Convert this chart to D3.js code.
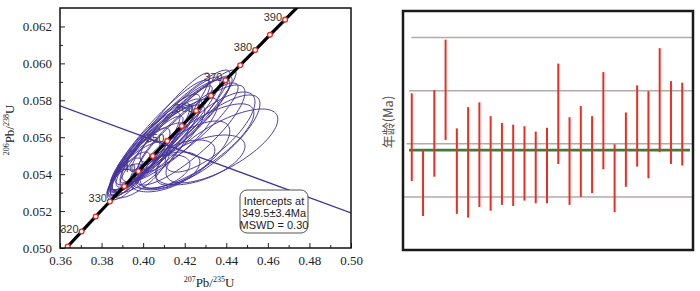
<!DOCTYPE html>
<html lang="zh">
<head>
<meta charset="utf-8">
<title>Concordia / weighted mean</title>
<script src="https://d3js.org/d3.v7.min.js"></script>
<style>
  html, body { margin: 0; padding: 0; background: #fff; }
  svg { display: block; }
  .age-lab { font-family: "Liberation Sans", Arial, sans-serif; font-size: 11px; fill: #333; }
  .box-txt { font-family: "Liberation Sans", Arial, sans-serif; font-size: 11px; fill: #222; }
</style>
</head>
<body>
<svg id="chart" width="700" height="291"></svg>
<script>
// concordia reference points (age, 207Pb/235U, 206Pb/238U)
const concAge = [315, 320, 325, 330, 335, 340, 345, 350, 355, 360, 365, 370, 375, 380, 385, 390, 395];
const conc207 = [0.3637, 0.3704, 0.3772, 0.3840, 0.3909, 0.3977, 0.4046, 0.4116, 0.4186, 0.4255, 0.4326, 0.4396, 0.4467, 0.4539, 0.4610, 0.4683, 0.4755];
const conc206 = [0.05008, 0.05089, 0.05171, 0.05252, 0.05334, 0.05416, 0.05498, 0.05580, 0.05661, 0.05743, 0.05825, 0.05908, 0.05990, 0.06072, 0.06155, 0.06237, 0.06319];
const labelAges = [320, 330, 340, 350, 360, 370, 380, 390];

// discordia end points
const discX = [0.36, 0.50];
const discY = [0.0577, 0.0519];

// error ellipses: centre, 2s errors, correlation
const ellX = [0.4129, 0.4081, 0.4105, 0.4057, 0.4033, 0.4009, 0.4153, 0.4201, 0.3985, 0.3961, 0.3937, 0.4081, 0.4129, 0.4033, 0.3913, 0.3985,
              0.4168, 0.4091, 0.4120, 0.4033, 0.4187, 0.4009, 0.4067, 0.4216, 0.3913, 0.4081,
              0.4379, 0.4312, 0.4254, 0.4201, 0.4153, 0.4274, 0.4105, 0.4225, 0.4322];
const ellY = [0.05639, 0.05612, 0.05650, 0.05574, 0.05542, 0.05520, 0.05666, 0.05693, 0.05477, 0.05433, 0.05401, 0.05558, 0.05585, 0.05488, 0.05379, 0.05423,
              0.05650, 0.05596, 0.05628, 0.05531, 0.05672, 0.05498, 0.05558, 0.05650, 0.05358, 0.05412,
              0.05553, 0.05585, 0.05553, 0.05504, 0.05450, 0.05477, 0.05412, 0.05612, 0.05628];
const ellSx = [0.0289, 0.0241, 0.0216, 0.0216, 0.0192, 0.0168, 0.0231, 0.0216, 0.0144, 0.0120, 0.0096, 0.0216, 0.0231, 0.0183, 0.0082, 0.0144,
               0.0279, 0.0241, 0.0250, 0.0202, 0.0241, 0.0183, 0.0216, 0.0241, 0.0087, 0.0144,
               0.0269, 0.0250, 0.0279, 0.0216, 0.0192, 0.0216, 0.0168, 0.0265, 0.0216];
const ellSy = [0.00325, 0.00298, 0.00298, 0.00260, 0.00244, 0.00217, 0.00244, 0.00228, 0.00173, 0.00152, 0.00119, 0.00217, 0.00228, 0.00190, 0.00108, 0.00152,
               0.00314, 0.00282, 0.00298, 0.00244, 0.00260, 0.00217, 0.00249, 0.00244, 0.00098, 0.00092,
               0.00200, 0.00244, 0.00228, 0.00184, 0.00135, 0.00135, 0.00108, 0.00271, 0.00217];
const ellRho = [0.93, 0.92, 0.94, 0.90, 0.90, 0.88, 0.90, 0.88, 0.85, 0.82, 0.78, 0.85, 0.85, 0.80, 0.75, 0.70,
                0.95, 0.95, 0.93, 0.93, 0.92, 0.92, 0.90, 0.90, 0.70, 0.45,
                0.72, 0.80, 0.78, 0.70, 0.60, 0.55, 0.50, 0.85, 0.75];

// weighted mean panel: per-spot age range (Ma)
const ageHi = [359.5, 348.8, 360.1, 369.6, 352.9, 356.9, 357.8, 355.2, 353.9, 353.6, 353.3, 352.3, 353.0, 365.1, 355.0, 357.1, 355.2, 363.5, 349.9, 355.9, 361.0, 359.9, 368.0, 361.8, 361.5];
const ageLo = [343.0, 336.4, 343.8, 350.7, 336.8, 336.1, 338.1, 337.4, 338.5, 338.3, 339.3, 338.8, 338.8, 346.2, 338.5, 340.0, 340.7, 345.2, 337.1, 341.9, 345.7, 343.5, 348.4, 346.2, 345.9];
const gridAges = [340, 350, 360, 370];
const meanAge = 348.8;

const serif = '"Liberation Serif", "Times New Roman", "DejaVu Serif", serif';
const svg = d3.select("#chart");

// ---------- left: concordia ----------
const L = { left: 60, right: 351, top: 8, bottom: 248 };
const x = d3.scaleLinear().domain([0.36, 0.50]).range([L.left, L.right]);
const y = d3.scaleLinear().domain([0.050, 0.063]).range([L.bottom, L.top]);

svg.append("clipPath").attr("id", "clipL")
  .append("rect").attr("x", L.left).attr("y", L.top)
  .attr("width", L.right - L.left).attr("height", L.bottom - L.top);

const plot = svg.append("g").attr("clip-path", "url(#clipL)");

// age labels sit behind the ellipses
plot.selectAll(".age-lab")
  .data(labelAges)
  .enter()
  .append("text")
  .attr("class", "age-lab")
  .attr("text-anchor", "end")
  .attr("x", a => x(conc207[concAge.indexOf(a)]) - 3)
  .attr("y", a => y(conc206[concAge.indexOf(a)]) + 1)
  .text(a => a);

// ellipses
const thetas = d3.range(0, 361, 4).map(d => d * Math.PI / 180);
const ellLine = d3.line().x(p => x(p[0])).y(p => y(p[1]));
ellX.forEach((cx, i) => {
  const r = ellRho[i], q = Math.sqrt(1 - r * r);
  const pts = thetas.map(t => [cx + ellSx[i] * Math.cos(t),
                               ellY[i] + ellSy[i] * (r * Math.cos(t) + q * Math.sin(t))]);
  plot.append("path")
    .attr("d", ellLine(pts) + "Z")
    .attr("fill", "none")
    .attr("stroke", "#47339a")
    .attr("stroke-width", 0.95);
});

// concordia curve
plot.append("path")
  .attr("d", d3.line().x((d, i) => x(conc207[i])).y((d, i) => y(conc206[i]))(concAge))
  .attr("fill", "none")
  .attr("stroke", "#000")
  .attr("stroke-width", 3.2);

plot.selectAll(".mk")
  .data(concAge.filter(a => a <= 390))
  .enter()
  .append("circle")
  .attr("cx", (a, i) => x(conc207[i]))
  .attr("cy", (a, i) => y(conc206[i]))
  .attr("r", 2.4)
  .attr("fill", "#fff")
  .attr("stroke", "#e52a1e")
  .attr("stroke-width", 1.3);

// discordia
plot.append("line")
  .attr("x1", x(discX[0])).attr("y1", y(discY[0]))
  .attr("x2", x(discX[1])).attr("y2", y(discY[1]))
  .attr("stroke", "#47339a")
  .attr("stroke-width", 1.4);

// axes (ticks inside)
const xAxis = d3.axisBottom(x).tickValues(d3.range(0.36, 0.5001, 0.01))
  .tickSize(-5).tickPadding(8)
  .tickFormat((d, i) => i % 2 === 0 ? d3.format(".2f")(d) : "");
const gx = svg.append("g").attr("transform", `translate(0,${L.bottom})`).call(xAxis);
gx.selectAll(".tick line").attr("y2", (d, i) => i % 2 === 0 ? -5 : -3);

const yAxis = d3.axisLeft(y).tickValues(d3.range(0.050, 0.0625, 0.001))
  .tickSize(-5).tickPadding(8)
  .tickFormat((d, i) => i % 2 === 0 ? d3.format(".3f")(d) : "");
const gy = svg.append("g").attr("transform", `translate(${L.left},0)`).call(yAxis);
gy.selectAll(".tick line").attr("x2", (d, i) => i % 2 === 0 ? 5 : 3);

[gx, gy].forEach(g => {
  g.attr("font-family", serif).attr("font-size", 13);
  g.select(".domain").remove();
  g.selectAll(".tick line").attr("stroke", "#222");
  g.selectAll("text").attr("fill", "#222");
});

svg.append("rect")
  .attr("x", L.left).attr("y", L.top)
  .attr("width", L.right - L.left).attr("height", L.bottom - L.top)
  .attr("fill", "none").attr("stroke", "#111").attr("stroke-width", 1.5);

// intercept box
const bx = svg.append("g");
bx.append("rect").attr("x", 240).attr("y", 190).attr("width", 68).attr("height", 43)
  .attr("rx", 7).attr("fill", "#fff").attr("stroke", "#555").attr("stroke-width", 1);
["Intercepts at", "349.5\u00b13.4Ma", "MSWD = 0.30"].forEach((t, i) => {
  bx.append("text").attr("class", "box-txt").attr("text-anchor", "middle")
    .attr("x", 274).attr("y", 204.5 + i * 12.3).text(t);
});

// axis titles with superscripts
const xt = svg.append("text").attr("x", 209).attr("y", 287).attr("text-anchor", "middle")
  .attr("font-family", serif).attr("font-size", 13).attr("fill", "#222");
xt.append("tspan").attr("font-size", 8).attr("dy", -5).text("207");
xt.append("tspan").attr("dy", 5).text("Pb/");
xt.append("tspan").attr("font-size", 8).attr("dy", -5).text("235");
xt.append("tspan").attr("dy", 5).text("U");

const yt = svg.append("text").attr("transform", "translate(14,130) rotate(-90)").attr("text-anchor", "middle")
  .attr("font-family", serif).attr("font-size", 13).attr("fill", "#222");
yt.append("tspan").attr("font-size", 8).attr("dy", -5).text("206");
yt.append("tspan").attr("dy", 5).text("Pb/");
yt.append("tspan").attr("font-size", 8).attr("dy", -5).text("238");
yt.append("tspan").attr("dy", 5).text("U");

// ---------- right: weighted mean ages ----------
const R = { left: 403, right: 693, top: 11, bottom: 250 };
const xs = d3.scaleLinear().domain([0, 26]).range([400.5, 693.5]);
const ys = d3.scaleLinear().domain([330, 375]).range([R.bottom, R.top]);

svg.selectAll(".grid")
  .data(gridAges)
  .enter()
  .append("line")
  .attr("x1", (d, i) => R.left + 1 + i * 2.5).attr("x2", R.right)
  .attr("y1", d => ys(d)).attr("y2", d => ys(d))
  .attr("stroke", "#b3aaaa").attr("stroke-width", 1.5);

svg.append("line")
  .attr("x1", 409).attr("x2", 690)
  .attr("y1", ys(meanAge)).attr("y2", ys(meanAge))
  .attr("stroke", "#3c7d3c").attr("stroke-width", 2.6);

svg.selectAll(".bar")
  .data(ageHi)
  .enter()
  .append("line")
  .attr("x1", (d, i) => xs(i + 1)).attr("x2", (d, i) => xs(i + 1))
  .attr("y1", d => ys(d)).attr("y2", (d, i) => ys(ageLo[i]))
  .attr("stroke", "#ec2e22").attr("stroke-width", 2);

svg.append("rect")
  .attr("x", R.left).attr("y", R.top)
  .attr("width", R.right - R.left).attr("height", R.bottom - R.top)
  .attr("fill", "none").attr("stroke", "#1a1a1a").attr("stroke-width", 2.5);

svg.append("text")
  .attr("transform", "translate(393,122) rotate(-90)")
  .attr("text-anchor", "middle")
  .attr("font-family", '"Noto Sans CJK SC", sans-serif')
  .attr("font-size", 13).attr("fill", "#555")
  .text("年龄(Ma)");
</script>
</body>
</html>
